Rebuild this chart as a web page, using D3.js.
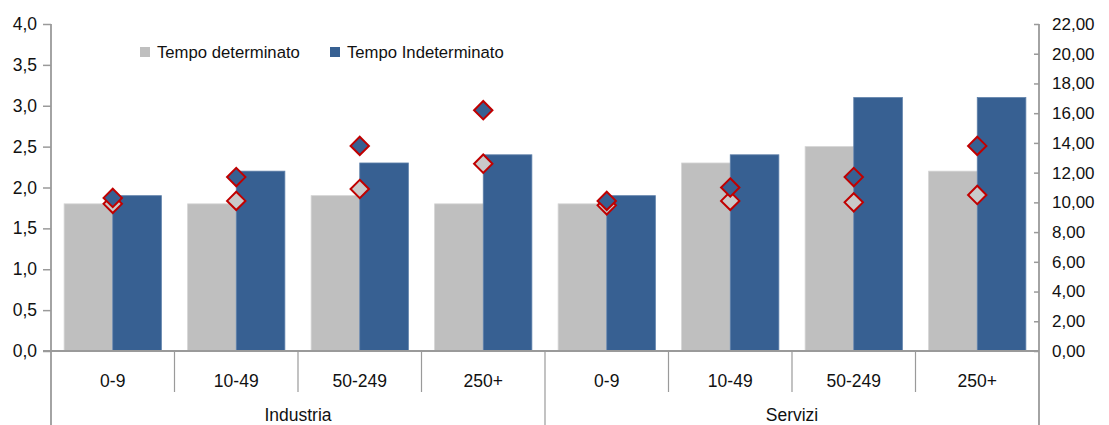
<!DOCTYPE html>
<html>
<head>
<meta charset="utf-8">
<script src="https://cdn.jsdelivr.net/npm/d3@7"></script>
<style>
  html, body { margin: 0; padding: 0; background: #fff; }
  svg { display: block; font-family: "Liberation Sans", Arial, sans-serif; }
</style>
</head>
<body>
<svg id="chart" width="1109" height="425"></svg>
<script>
// Settori e classi dimensionali
const groups = ["Industria", "Servizi"];
const sizeClasses = ["0-9", "10-49", "50-249", "250+"];
const seriesNames = ["Tempo determinato", "Tempo Indeterminato"];

// Barre (asse sinistro)
const barDet   = [1.8, 1.8, 1.9, 1.8, 1.8, 2.3, 2.5, 2.2];
const barIndet = [1.9, 2.2, 2.3, 2.4, 1.9, 2.4, 3.1, 3.1];

// Rombi (asse destro)
const pointDet   = [9.9, 10.1, 10.9, 12.6, 9.8, 10.1, 10.0, 10.5];
const pointIndet = [10.3, 11.7, 13.8, 16.2, 10.1, 11.0, 11.7, 13.8];

// Etichette degli assi
const leftTicks  = [0, 0.5, 1, 1.5, 2, 2.5, 3, 3.5, 4];
const rightTicks = [0, 2, 4, 6, 8, 10, 12, 14, 16, 18, 20, 22];

const colDet = "#bfbfbf";
const colIndet = "#376092";
const colMarkerStroke = "#c00000";
const axisCol = "#9a9a9a";

const svg = d3.select("#chart");
const plotLeft = 51, plotRight = 1039, plotTop = 24, plotBottom = 351;

const cats = [];
groups.forEach(g => sizeClasses.forEach(s => cats.push(g + "|" + s)));

const x = d3.scaleBand().domain(cats).range([plotLeft, plotRight]).paddingInner(0).paddingOuter(0);
const xs = d3.scaleBand().domain(seriesNames).range([0, x.bandwidth()]).paddingInner(0).paddingOuter(0.27);
const yL = d3.scaleLinear().domain([0, 4]).range([plotBottom, plotTop]);
const yR = d3.scaleLinear().domain([0, 22]).range([plotBottom, plotTop]);

const fmt1 = d3.format(".1f"), fmt2 = d3.format(".2f");
const comma = s => s.replace(".", ",");

// Barre
const barData = [barDet, barIndet];
barData.forEach((vals, si) => {
  svg.append("g").selectAll("rect").data(vals).join("rect")
    .attr("x", (d, i) => x(cats[i]) + xs(seriesNames[si]))
    .attr("width", xs.bandwidth())
    .attr("y", d => yL(d))
    .attr("height", d => yL(0) - yL(d))
    .attr("fill", si === 0 ? colDet : colIndet)
    .attr("stroke", si === 0 ? "#d4d4d4" : "#5f80aa")
    .attr("stroke-width", 0.8);
});

// Asse sinistro
const gL = svg.append("g").attr("transform", `translate(${plotLeft},0)`)
  .call(d3.axisLeft(yL).tickValues(leftTicks).tickSize(8).tickPadding(6).tickFormat(d => comma(fmt1(d))));
gL.select(".domain").remove();
gL.selectAll(".tick line").attr("stroke", axisCol).attr("stroke-width", 1.5);
gL.selectAll("text").attr("font-size", 17.5).attr("fill", "#111").attr("font-family", "Liberation Sans, Arial, sans-serif");
svg.append("line").attr("x1", plotLeft).attr("x2", plotLeft).attr("y1", plotTop).attr("y2", 425)
  .attr("stroke", axisCol).attr("stroke-width", 1.8);

// Asse destro
const gR = svg.append("g").attr("transform", `translate(${plotRight},0)`)
  .call(d3.axisRight(yR).tickValues(rightTicks).tickSize(0).tickPadding(13).tickFormat(d => comma(fmt2(d))));
gR.select(".domain").remove();
gR.selectAll(".tick").append("line").attr("x1", -5).attr("x2", 0).attr("stroke", axisCol).attr("stroke-width", 1.5);
gR.selectAll("text").attr("font-size", 17).attr("fill", "#111").attr("font-family", "Liberation Sans, Arial, sans-serif");
svg.append("line").attr("x1", plotRight).attr("x2", plotRight).attr("y1", plotTop).attr("y2", 425)
  .attr("stroke", axisCol).attr("stroke-width", 1.8);

// Asse delle categorie
svg.append("line").attr("x1", plotLeft - 8).attr("x2", plotRight).attr("y1", plotBottom).attr("y2", plotBottom)
  .attr("stroke", axisCol).attr("stroke-width", 1.8);
cats.forEach((c, i) => {
  if (i > 0) {
    const isGroupEdge = i % sizeClasses.length === 0;
    svg.append("line").attr("x1", x(c)).attr("x2", x(c))
      .attr("y1", plotBottom).attr("y2", isGroupEdge ? 425 : 392)
      .attr("stroke", axisCol).attr("stroke-width", 1.2);
  }
  svg.append("text").attr("x", x(c) + x.bandwidth() / 2).attr("y", 387)
    .attr("text-anchor", "middle").attr("font-size", 17.5).attr("fill", "#111")
    .text(c.split("|")[1]);
});
groups.forEach((g, gi) => {
  const first = x(cats[gi * sizeClasses.length]);
  const last = x(cats[gi * sizeClasses.length + sizeClasses.length - 1]) + x.bandwidth();
  svg.append("text").attr("x", (first + last) / 2).attr("y", 421)
    .attr("text-anchor", "middle").attr("font-size", 17.5).attr("fill", "#111").text(g);
});

// Rombi
const diamond = d3.symbol().type(d3.symbolDiamond2).size(215);
[[pointDet, "#c9c9c9"], [pointIndet, colIndet]].forEach(([vals, fill]) => {
  svg.append("g").selectAll("path").data(vals).join("path")
    .attr("d", diamond)
    .attr("transform", (d, i) => `translate(${x(cats[i]) + x.bandwidth() / 2},${yR(d)})`)
    .attr("fill", fill)
    .attr("stroke", colMarkerStroke)
    .attr("stroke-width", 2);
});

// Legenda
const legend = svg.append("g");
const legendItems = [{ name: seriesNames[0], col: colDet, x: 140 }, { name: seriesNames[1], col: colIndet, x: 330 }];
legendItems.forEach(it => {
  legend.append("rect").attr("x", it.x).attr("y", 47).attr("width", 10).attr("height", 10).attr("fill", it.col);
  legend.append("text").attr("x", it.x + 17).attr("y", 58).attr("font-size", 16.7).attr("fill", "#111").text(it.name);
});
</script>
</body>
</html>
